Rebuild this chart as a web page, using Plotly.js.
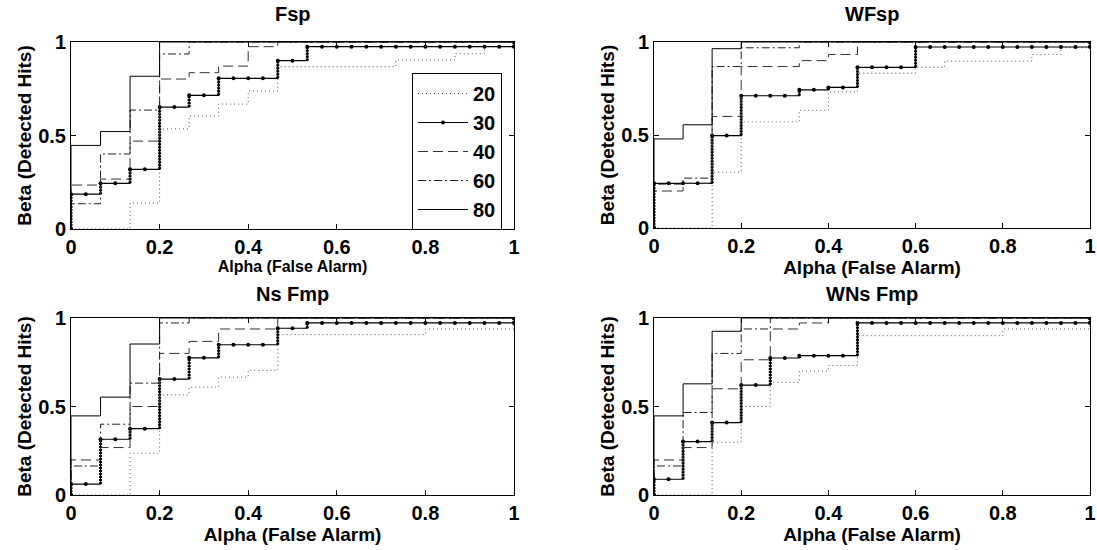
<!DOCTYPE html>
<html><head><meta charset="utf-8">
<script src="https://cdn.plot.ly/plotly-3.0.1.min.js"></script>
<style>html,body{margin:0;padding:0;background:#fff}#chart{width:1097px;height:550px}</style>
</head><body><div id="chart"></div>
<script>
// False-alarm grid where the ROC steps occur (interval starts)
const alphaSteps = [0, 0.0667, 0.1333, 0.2, 0.2667, 0.3333, 0.4, 0.4667, 0.5333, 0.6, 0.6667, 0.7333, 0.8, 0.8667, 0.9333];
// Threshold points of the "30" curve (marker positions)
const alphaMarks = [0, 0.0333, 0.0667, 0.1, 0.1333, 0.1667, 0.2, 0.2333, 0.2667, 0.3, 0.3333, 0.3667, 0.4, 0.4333, 0.4667, 0.5,
  0.5333, 0.5667, 0.6, 0.6333, 0.6667, 0.7, 0.7333, 0.7667, 0.8, 0.8333, 0.8667, 0.9, 0.9333, 0.9667, 1];
const seriesNames = ['20', '30', '40', '60', '80'];
const panelTitles = ['Fsp', 'WFsp', 'Ns Fmp', 'WNs Fmp'];
const xTitle = 'Alpha (False Alarm)';
const yTitle = 'Beta (Detected Hits)';

// Beta level on each alpha interval, per panel and series
const fsp20 = [0, 0, 0.139, 0.535, 0.604, 0.668, 0.738, 0.868, 0.868, 0.868, 0.868, 0.904, 0.904, 0.937, 0.975];
const fsp30 = [0.186, 0.244, 0.319, 0.652, 0.715, 0.806, 0.806, 0.900, 0.975, 0.975, 0.975, 0.975, 0.975, 0.975, 0.975];
const fsp40 = [0.235, 0.267, 0.470, 0.802, 0.836, 0.871, 0.975, 1, 1, 1, 1, 1, 1, 1, 1];
const fsp60 = [0.135, 0.401, 0.636, 0.936, 1, 1, 1, 1, 1, 1, 1, 1, 1, 1, 1];
const fsp80 = [0.447, 0.521, 0.817, 1, 1, 1, 1, 1, 1, 1, 1, 1, 1, 1, 1];

const wfsp20 = [0, 0, 0.300, 0.571, 0.571, 0.633, 0.732, 0.832, 0.832, 0.864, 0.897, 0.897, 0.897, 0.933, 0.969];
const wfsp30 = [0.240, 0.240, 0.497, 0.711, 0.711, 0.743, 0.756, 0.864, 0.864, 0.973, 0.973, 0.973, 0.973, 0.973, 0.973];
const wfsp40 = [0.199, 0.240, 0.600, 0.868, 0.868, 0.900, 0.933, 1, 1, 1, 1, 1, 1, 1, 1];
const wfsp60 = [0.236, 0.268, 0.868, 0.969, 0.969, 1, 1, 1, 1, 1, 1, 1, 1, 1, 1];
const wfsp80 = [0.479, 0.555, 0.964, 1, 1, 1, 1, 1, 1, 1, 1, 1, 1, 1, 1];

const nsfmp20 = [0, 0, 0.236, 0.566, 0.609, 0.666, 0.704, 0.906, 0.906, 0.906, 0.906, 0.906, 0.938, 0.938, 0.938];
const nsfmp30 = [0.062, 0.315, 0.375, 0.655, 0.775, 0.849, 0.849, 0.942, 0.972, 0.972, 0.972, 0.972, 0.972, 0.972, 0.972];
const nsfmp40 = [0.198, 0.268, 0.500, 0.800, 0.868, 0.938, 0.938, 1, 1, 1, 1, 1, 1, 1, 1];
const nsfmp60 = [0.164, 0.400, 0.632, 0.972, 1, 1, 1, 1, 1, 1, 1, 1, 1, 1, 1];
const nsfmp80 = [0.447, 0.553, 0.853, 1, 1, 1, 1, 1, 1, 1, 1, 1, 1, 1, 1];

const wnsfmp20 = [0, 0, 0.298, 0.500, 0.636, 0.700, 0.732, 0.900, 0.900, 0.900, 0.900, 0.900, 0.938, 0.938, 0.938];
const wnsfmp30 = [0.089, 0.302, 0.409, 0.621, 0.774, 0.787, 0.787, 0.972, 0.972, 0.972, 0.972, 0.972, 0.972, 0.972, 0.972];
const wnsfmp40 = [0.198, 0.268, 0.600, 0.764, 0.938, 0.972, 1, 1, 1, 1, 1, 1, 1, 1, 1];
const wnsfmp60 = [0.164, 0.466, 0.800, 0.938, 1, 1, 1, 1, 1, 1, 1, 1, 1, 1, 1];
const wnsfmp80 = [0.447, 0.628, 0.925, 1, 1, 1, 1, 1, 1, 1, 1, 1, 1, 1, 1];

const panels = [
  [fsp20, fsp30, fsp40, fsp60, fsp80],
  [wfsp20, wfsp30, wfsp40, wfsp60, wfsp80],
  [nsfmp20, nsfmp30, nsfmp40, nsfmp60, nsfmp80],
  [wnsfmp20, wnsfmp30, wnsfmp40, wnsfmp60, wnsfmp80]
];

const styles = {
  '20': {color: '#555', width: 1, dash: '1px,3px'},
  '30': {color: '#000', width: 1.2, dash: 'solid'},
  '40': {color: '#333', width: 1, dash: '10px,5px'},
  '60': {color: '#222', width: 1, dash: '8px,3px,2px,3px'},
  '80': {color: '#000', width: 1, dash: 'solid'}
};

function levelAt(levels, x) {
  let idx = 0;
  for (let k = 0; k < alphaSteps.length; k++) if (alphaSteps[k] <= x + 1e-6) idx = k;
  return levels[idx];
}

const FONT = 'Liberation Sans, Arial, Helvetica, sans-serif';
const traces = [];
panels.forEach((series, p) => {
  const xa = p === 0 ? 'x' : 'x' + (p + 1);
  const ya = p === 0 ? 'y' : 'y' + (p + 1);
  series.forEach((levels, s) => {
    const name = seriesNames[s];
    const st = styles[name];
    if (name === '30') {
      // vertical jumps drawn as dense dotted columns
      const vx = [], vy = [];
      let prev = 0;
      alphaSteps.forEach((a, k) => {
        if (levels[k] !== prev) { vx.push(a, a, null); vy.push(prev, levels[k], null); }
        prev = levels[k];
      });
      vx.push(1, 1, null); vy.push(prev, 1, null);
      traces.push({x: vx, y: vy, xaxis: xa, yaxis: ya, mode: 'lines', showlegend: false, hoverinfo: 'skip',
        line: {color: '#000', width: 3, dash: '2px,1px'}});
      const mx = [0], my = [0];
      alphaMarks.forEach(a => { mx.push(a); my.push(levelAt(levels, a)); });
      mx.push(1); my.push(1);
      traces.push({x: mx, y: my, xaxis: xa, yaxis: ya, name: name, legendrank: s + 1,
        mode: 'lines+markers', showlegend: p === 0,
        line: {shape: 'hv', color: st.color, width: st.width},
        marker: {color: '#000', size: 4, symbol: 'circle'}});
    } else {
      const x = [0], y = [0];
      alphaSteps.forEach((a, k) => { x.push(a); y.push(levels[k]); });
      x.push(1); y.push(levels[levels.length - 1]);
      x.push(1); y.push(1);
      traces.push({x: x, y: y, xaxis: xa, yaxis: ya, name: name, legendrank: s + 1,
        mode: 'lines', showlegend: p === 0,
        line: {shape: 'hv', color: st.color, width: st.width, dash: st.dash}});
    }
  });
});

const W = 1097, H = 550;
const boxes = [ // [left, right, top, bottom] in px
  [71, 514, 42, 229],
  [654, 1090, 42, 228],
  [71, 514, 318, 495],
  [654, 1090, 318, 495]
];

function axisBase() {
  return {
    range: [0, 1], showgrid: false, zeroline: false, showline: true, linecolor: '#000', linewidth: 1,
    mirror: 'ticks', ticks: 'inside', ticklen: 5, tickcolor: '#000', tickwidth: 1,
    ticklabeloverflow: 'allow',
    tickfont: {family: FONT, size: 20, color: '#000', weight: 'bold'}, fixedrange: true
  };
}

const layout = {
  width: W, height: H, paper_bgcolor: '#fff', plot_bgcolor: '#fff',
  margin: {l: 0, r: 0, t: 0, b: 0},
  showlegend: true,
  legend: {
    x: 412 / W, y: 1 - 73 / H, xanchor: 'left', yanchor: 'top',
    bgcolor: '#fff', bordercolor: '#000', borderwidth: 1,
    font: {family: FONT, size: 20, color: '#000', weight: 'bold'},
    traceorder: 'normal', tracegroupgap: 0, itemwidth: 50
  },
  annotations: []
};

boxes.forEach((b, p) => {
  const xk = p === 0 ? 'xaxis' : 'xaxis' + (p + 1);
  const yk = p === 0 ? 'yaxis' : 'yaxis' + (p + 1);
  const xa = axisBase();
  xa.domain = [b[0] / W, b[1] / W];
  xa.anchor = p === 0 ? 'y' : 'y' + (p + 1);
  xa.dtick = 0.2; xa.tick0 = 0;
  xa.title = {text: xTitle, font: {family: FONT, size: p === 0 ? 16 : 19, color: '#000', weight: 'bold'},
    standoff: p === 0 ? 3 : (p === 1 ? 2 : 0)};
  const ya = axisBase();
  ya.domain = [1 - b[3] / H, 1 - b[2] / H];
  ya.anchor = p === 0 ? 'x' : 'x' + (p + 1);
  ya.dtick = 0.5; ya.tick0 = 0;
  ya.title = {text: yTitle, font: {family: FONT, size: 19, color: '#000', weight: 'bold'}, standoff: 1};
  layout[xk] = xa;
  layout[yk] = ya;
  layout.annotations.push({
    text: panelTitles[p], xref: 'paper', yref: 'paper', showarrow: false,
    x: (b[0] + b[1]) / 2 / W, y: 1 - (b[2] - (p < 2 ? 28 : 24)) / H, xanchor: 'center', yanchor: 'middle',
    font: {family: FONT, size: 20, color: '#000', weight: 'bold'}
  });
});

Plotly.newPlot('chart', traces, layout, {displayModeBar: false, staticPlot: true});
</script>
</body></html>
